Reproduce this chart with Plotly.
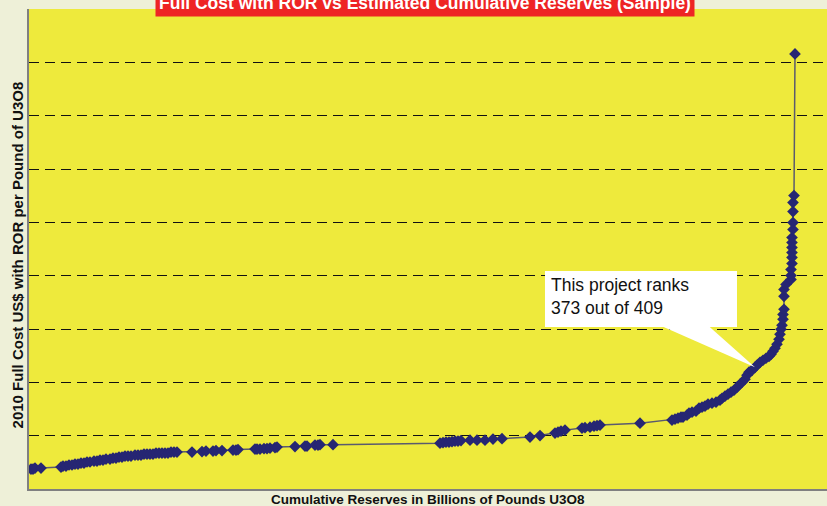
import plotly.graph_objects as go

# Cumulative reserves (billions of lb U3O8), sorted by cost
reserves = [
    0.02, 0.04, 0.06, 0.12, 0.32, 0.34, 0.37, 0.40, 0.43, 0.46, 0.49, 0.52, 0.55, 0.58, 0.61,
    0.65, 0.68, 0.71, 0.74, 0.77, 0.81, 0.84, 0.87, 0.90, 0.93, 0.96, 0.99, 1.02, 1.06, 1.09,
    1.12, 1.15, 1.18, 1.21, 1.24, 1.27, 1.30, 1.33, 1.36, 1.39, 1.42, 1.45, 1.48, 1.63, 1.73,
    1.77, 1.84, 1.87, 1.93, 2.04, 2.07, 2.09, 2.26, 2.28, 2.31, 2.35, 2.38, 2.41, 2.46, 2.48,
    2.66, 2.76, 2.78, 2.86, 2.89, 2.91, 3.04,
    4.11, 4.14, 4.17, 4.20, 4.23, 4.26, 4.29, 4.32, 4.41, 4.48, 4.56, 4.64, 4.73, 5.01, 5.11,
    5.26, 5.29, 5.32, 5.36, 5.53, 5.56, 5.61, 5.65, 5.68, 5.71, 6.11,
    6.43, 6.46, 6.49, 6.52, 6.54, 6.58, 6.60, 6.63, 6.67, 6.70, 6.73, 6.76, 6.79, 6.83, 6.87,
    6.91, 6.93, 6.96, 6.99, 7.02, 7.05, 7.08, 7.11, 7.13, 7.16, 7.18, 7.20, 7.23, 7.26, 7.28,
    7.31, 7.34, 7.37, 7.40, 7.42, 7.44, 7.46, 7.48, 7.50, 7.51, 7.52, 7.53, 7.54, 7.54, 7.55,
    7.55, 7.55, 7.57, 7.62, 7.62, 7.62, 7.63, 7.63, 7.63, 7.63, 7.63, 7.63, 7.64, 7.64, 7.64,
    7.64, 7.65, 7.66,
]

# 2010 full cost with ROR (US$ per lb U3O8)
cost = [
    18.7, 18.7, 19.6, 19.6, 20.6, 21.5, 21.5, 22.5, 22.5, 23.4, 23.4, 24.3, 24.3, 25.3, 25.3,
    26.2, 26.2, 27.1, 27.1, 28.1, 28.1, 29.0, 29.0, 29.9, 29.9, 30.9, 30.9, 30.9, 31.8, 31.8,
    31.8, 32.7, 32.7, 32.7, 32.7, 33.7, 33.7, 33.7, 33.7, 33.7, 34.6, 34.6, 34.6, 34.6, 35.1,
    35.6, 35.6, 36.0, 36.0, 36.5, 36.5, 37.0, 37.4, 37.4, 37.4, 37.9, 37.9, 38.4, 38.8, 39.3,
    39.8, 40.2, 40.2, 41.2, 41.2, 41.6, 41.6,
    43.0, 43.5, 44.0, 44.0, 44.4, 44.9, 44.9, 45.4, 45.8, 45.8, 45.8, 46.8, 47.2, 48.7, 50.1,
    52.4, 53.3, 54.3, 55.2, 57.1, 57.5, 58.0, 58.9, 59.4, 59.9, 61.7,
    64.6, 65.5, 66.4, 67.4, 67.4, 69.2, 71.1, 72.0, 73.0, 75.8, 76.7, 77.7, 79.5, 80.5, 81.4,
    83.3, 85.1, 87.0, 88.9, 90.8, 92.6, 95.4, 98.2, 100.1, 102.9, 106.7, 109.5, 111.3, 114.1, 116.0,
    118.8, 120.7, 122.6, 124.4, 126.3, 129.1, 131.9, 135.7, 140.3, 145.0, 149.7, 153.4, 159.1, 163.7, 168.4,
    180.6, 187.1, 191.8, 196.5, 200.2, 205.8, 211.4, 217.1, 221.7, 226.4, 231.1, 235.8, 243.3, 249.8, 260.1,
    268.5, 275.1, 407.9,
]

project_index = 121          # the highlighted project in the list above
project_rank = 373
project_total = 409

title_text = "Full Cost with ROR vs Estimated Cumulative Reserves (Sample)"
x_title = "Cumulative Reserves in Billions of Pounds U3O8"
y_title = "2010 Full Cost US$ with ROR per Pound of U3O8"

X_RANGE = [0, 7.98]
Y_RANGE = [0, 450]

fig = go.Figure()
fig.add_trace(go.Scatter(
    x=reserves, y=cost, mode="lines+markers",
    line=dict(color="#5a5a6e", width=1.5),
    marker=dict(symbol="diamond", size=9, color="#262673"),
    showlegend=False, hoverinfo="skip",
))

# callout tip computed from the project's data point
tip_x = (reserves[project_index] - X_RANGE[0]) / (X_RANGE[1] - X_RANGE[0])
tip_y = (cost[project_index] - Y_RANGE[0]) / (Y_RANGE[1] - Y_RANGE[0])

box_x0, box_x1 = 0.6466, 0.8872
box_y0, box_y1 = 0.3375, 0.4542

fig.add_shape(type="path", xref="paper", yref="paper",
              path=f"M 0.791 {box_y0+0.003} L 0.851 {box_y0+0.003} L {tip_x} {tip_y} Z",
              fillcolor="white", line=dict(width=0), layer="above")
fig.add_shape(type="rect", xref="paper", yref="paper",
              x0=box_x0, x1=box_x1, y0=box_y0, y1=box_y1,
              fillcolor="white", line=dict(width=0), layer="above")

font_main = "Liberation Sans, Arial, sans-serif"

fig.add_annotation(xref="paper", yref="paper", x=0.6516, y=box_y1 - 0.004,
                   xanchor="left", yanchor="top", align="left", showarrow=False,
                   text=f"This project ranks<br>{project_rank} out of {project_total}",
                   font=dict(family=font_main, size=17.5, color="#111111"))

fig.add_annotation(xref="paper", yref="paper", x=0.4962, y=0.983,
                   xanchor="center", yanchor="bottom", showarrow=False,
                   text=f"<b>{title_text}</b>", bgcolor="#ee2424", borderpad=3,
                   font=dict(family=font_main, size=17.5, color="white"))

fig.add_annotation(xref="paper", yref="paper", x=0.5,
                   y=-0.021,
                   xanchor="center", yanchor="middle", showarrow=False,
                   text=f"<b>{x_title}</b>",
                   font=dict(family=font_main, size=13.5, color="#111111"))

fig.add_annotation(xref="paper", yref="paper", x=-0.0132, y=0.4875,
                   xanchor="center", yanchor="middle", showarrow=False, textangle=-90,
                   text=f"<b>{y_title}</b>",
                   font=dict(family=font_main, size=15, color="#111111"))

fig.update_layout(
    width=827, height=506,
    margin=dict(l=29, r=0, t=9, b=17, autoexpand=False),
    paper_bgcolor="#eef0d8",
    plot_bgcolor="#eeea3c",
    font=dict(family=font_main),
    xaxis=dict(range=X_RANGE, showgrid=False, zeroline=False, showticklabels=False,
               ticks="", showline=True, linecolor="#808080", linewidth=2),
    yaxis=dict(range=Y_RANGE, dtick=50, tick0=0, showgrid=True, gridcolor="#111111",
               griddash="10px,6px", gridwidth=1, zeroline=False, showticklabels=False,
               ticks="", showline=True, linecolor="#808080", linewidth=2),
)

fig.write_html("out.html", config={"displayModeBar": False},
               post_script="document.body.style.margin='0';")
